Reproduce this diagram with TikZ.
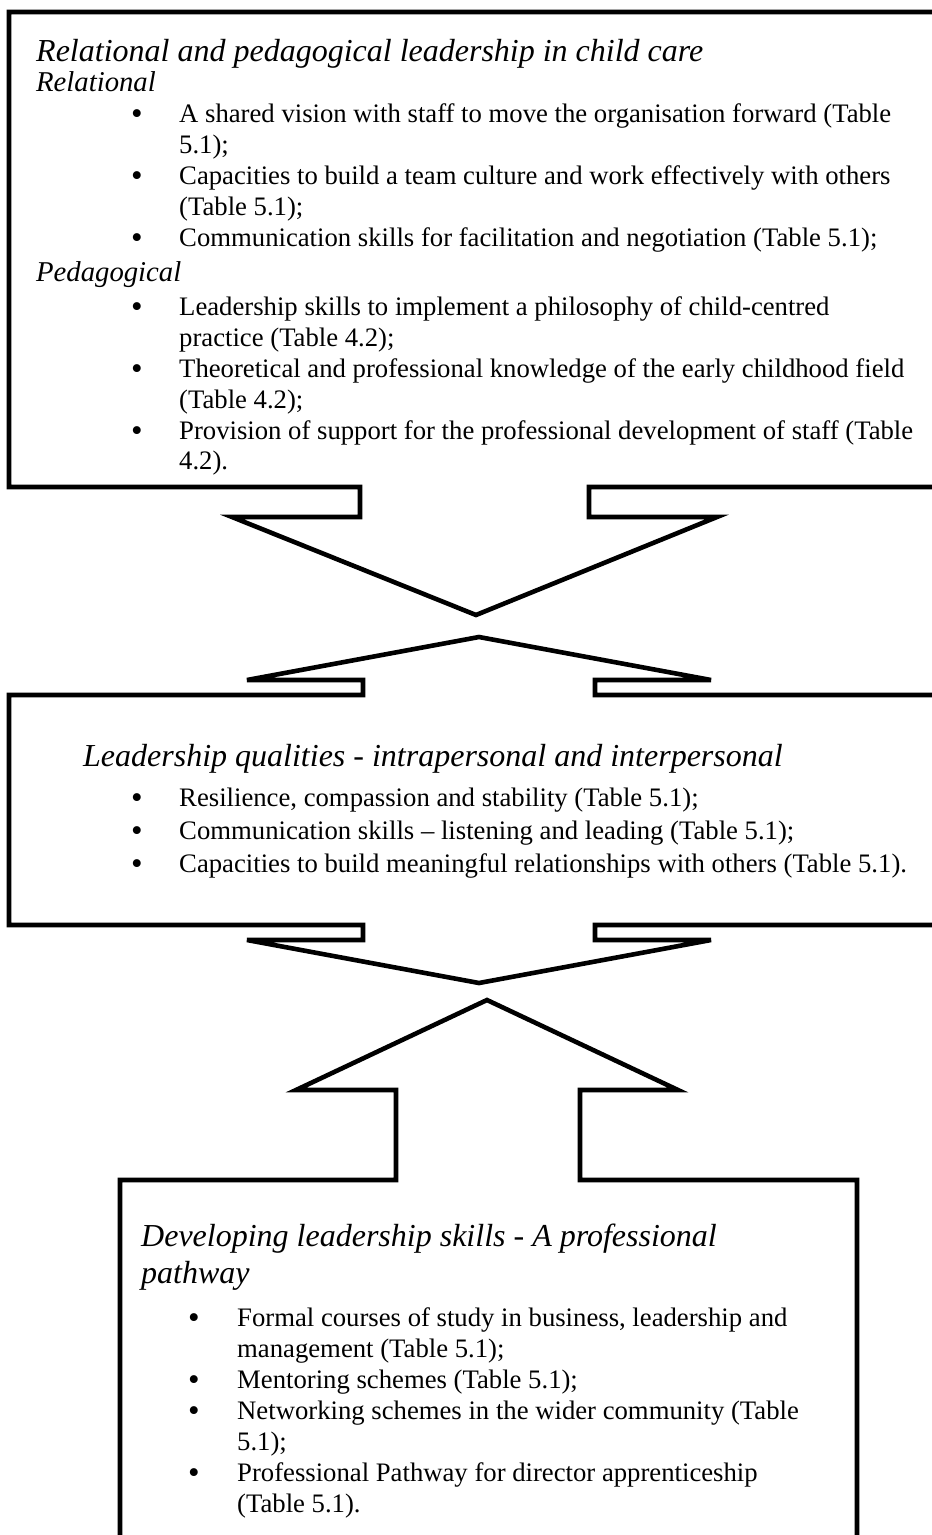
\documentclass[tikz,border=0pt]{standalone}
\usepackage{fontspec}
\setmainfont{Liberation Serif}
\begin{document}
\begin{tikzpicture}[x=1pt,y=-1pt,
  outline/.style={draw=black, line width=4.6pt, fill=white},
  bodytxt/.style={anchor=base west, inner sep=0pt, font=\fontsize{26.7}{30}\selectfont},
  bul/.style={anchor=base, inner sep=0pt, yshift=-2.2pt, font=\fontsize{33}{36}\selectfont},
  headtxt/.style={anchor=base west, inner sep=0pt, font=\fontsize{32}{36}\selectfont\itshape},
  subtxt/.style={anchor=base west, inner sep=0pt, font=\fontsize{28.7}{33}\selectfont\itshape}]
\useasboundingbox (0,0) rectangle (932,1535);
\clip (0,0) rectangle (932,1535);
\fill[white] (0,0) rectangle (932,1535);

% top box with down arrow
\draw[outline] (9,12) -- (945,12) -- (945,487) -- (589,487) -- (589,517) -- (717,517)
  -- (476,615) -- (232,517) -- (360,517) -- (360,487) -- (9,487) -- cycle;

% middle box with up and down arrows
\draw[outline] (9,695) -- (363,695) -- (363,680) -- (247,680) -- (479,637) -- (711,680)
  -- (595,680) -- (595,695) -- (945,695) -- (945,925) -- (595,925) -- (595,940)
  -- (711,940) -- (479,983) -- (247,940) -- (363,940) -- (363,925) -- (9,925) -- cycle;

% bottom box with up arrow
\draw[outline] (487,1000) -- (678,1090) -- (580,1090) -- (580,1180) -- (857,1180)
  -- (857,1550) -- (120,1550) -- (120,1180) -- (396,1180) -- (396,1090) -- (296,1090) -- cycle;

% ---- top box text
\node[headtxt] (t1) at (36,61) {Relational and pedagogical leadership in child care};
\node[subtxt] (t2) at (36,91) {Relational};
\node[bul] (b1) at (137,122) {•};
\node[bodytxt] (r1a) at (179,122) {A shared vision with staff to move the organisation forward (Table};
\node[bodytxt] (r1b) at (179,153) {5.1);};
\node[bul] (b2) at (137,184) {•};
\node[bodytxt] (r2a) at (179,184) {Capacities to build a team culture and work effectively with others};
\node[bodytxt] (r2b) at (179,215) {(Table 5.1);};
\node[bul] (b3) at (137,246) {•};
\node[bodytxt] (r3a) at (179,246) {Communication skills for facilitation and negotiation (Table 5.1);};
\node[subtxt] (t3) at (36,281) {Pedagogical};
\node[bul] (b4) at (137,315) {•};
\node[bodytxt] (p1a) at (179,315) {Leadership skills to implement a philosophy of child-centred};
\node[bodytxt] (p1b) at (179,346) {practice (Table 4.2);};
\node[bul] (b5) at (137,377) {•};
\node[bodytxt] (p2a) at (179,377) {Theoretical and professional knowledge of the early childhood field};
\node[bodytxt] (p2b) at (179,408) {(Table 4.2);};
\node[bul] (b6) at (137,439) {•};
\node[bodytxt] (p3a) at (179,439) {Provision of support for the professional development of staff (Table};
\node[bodytxt] (p3b) at (179,469) {4.2).};

% ---- middle box text
\node[headtxt] (m0) at (83,766) {Leadership qualities - intrapersonal and interpersonal};
\node[bul] (b7) at (137,806) {•};
\node[bodytxt] (m1) at (179,806) {Resilience, compassion and stability (Table 5.1);};
\node[bul] (b8) at (137,839) {•};
\node[bodytxt] (m2) at (179,839) {Communication skills – listening and leading (Table 5.1);};
\node[bul] (b9) at (137,872) {•};
\node[bodytxt] (m3) at (179,872) {Capacities to build meaningful relationships with others (Table 5.1).};

% ---- bottom box text
\node[headtxt] (d0a) at (141,1246) {Developing leadership skills - A professional};
\node[headtxt] (d0b) at (141,1283) {pathway};
\node[bul] (b10) at (194,1326) {•};
\node[bodytxt] (d1a) at (237,1326) {Formal courses of study in business, leadership and};
\node[bodytxt] (d1b) at (237,1357) {management (Table 5.1);};
\node[bul] (b11) at (194,1388) {•};
\node[bodytxt] (d2) at (237,1388) {Mentoring schemes (Table 5.1);};
\node[bul] (b12) at (194,1419) {•};
\node[bodytxt] (d3a) at (237,1419) {Networking schemes in the wider community (Table};
\node[bodytxt] (d3b) at (237,1450) {5.1);};
\node[bul] (b13) at (194,1481) {•};
\node[bodytxt] (d4a) at (237,1481) {Professional Pathway for director apprenticeship};
\node[bodytxt] (d4b) at (237,1512) {(Table 5.1).};
\end{tikzpicture}
\end{document}
